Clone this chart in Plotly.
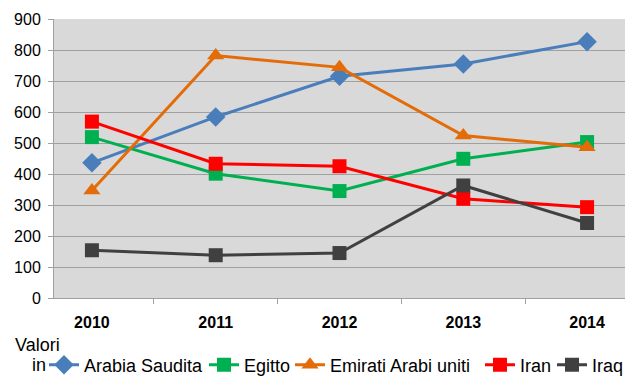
import plotly.graph_objects as go

years = ["2010", "2011", "2012", "2013", "2014"]
arabia = [436, 584, 715, 755, 827]
egitto = [519, 401, 345, 449, 503]
emirati = [347, 782, 744, 524, 486]
iran = [569, 433, 425, 320, 293]
iraq = [154, 138, 145, 363, 242]

series = [
    ("Arabia Saudita", arabia, "#4a7ebb", "diamond", 15),
    ("Egitto", egitto, "#00b050", "square", 14),
    ("Emirati Arabi uniti", emirati, "#e36c09", "triangle-up", 15),
    ("Iran", iran, "#ff0000", "square", 14),
    ("Iraq", iraq, "#404040", "square", 14),
]

# page body has an 8px margin; positions below are in figure pixels
OFF = 8
leg_px = [49, 209, 295, 485, 557]  # symbol starts on screen
L, R, T, B = 46, 23, 11, 93
W, H = 640, 383
pw, ph = W - L - R, H - T - B

fig = go.Figure()
layout_legends = {}
for i, (name, vals, col, sym, sz) in enumerate(series):
    lname = "legend" if i == 0 else f"legend{i+1}"
    fig.add_trace(go.Scatter(
        x=years, y=vals, name=name, mode="lines+markers",
        line=dict(color=col, width=3),
        marker=dict(symbol=sym, size=sz, color=col),
        legend=lname,
    ))
    ld = dict(
        orientation="h", xanchor="left", yanchor="middle",
        x=(leg_px[i] - OFF - 5 - L) / pw, y=(T + ph - (365 - OFF)) / ph,
        font=dict(size=18, family="Liberation Sans, Arial", color="#000000"),
        bgcolor="rgba(0,0,0,0)", itemwidth=30,
    )
    layout_legends[lname] = ld

fig.update_layout(
    width=W, height=H,
    margin=dict(l=L, r=R, t=T, b=B, autoexpand=False),
    paper_bgcolor="white", plot_bgcolor="#d9d9d9",
    font=dict(family="Liberation Sans, Arial", size=16, color="#000000"),
    showlegend=True,
    xaxis=dict(
        type="category", showgrid=False, showline=True, linecolor="#a0a0a0",
        ticks="outside", ticklen=5, tickcolor="#a0a0a0",
        tickson="boundaries", ticklabelstandoff=10,
        tickfont=dict(size=16, family="Liberation Sans, Arial", color="#000000", weight="bold"),
    ),
    yaxis=dict(
        range=[0, 900], dtick=100, showgrid=True, gridcolor="#a0a0a0", gridwidth=1,
        showline=True, linecolor="#a0a0a0", ticks="outside", ticklen=5, tickcolor="#a0a0a0",
        ticklabelstandoff=4,
        tickfont=dict(size=16), zeroline=False,
    ),
    annotations=[
        dict(text="Valori", xref="paper", yref="paper", x=(13 - OFF - L) / pw,
             y=(T + ph - (345 - OFF)) / ph,
             xanchor="left", yanchor="middle", showarrow=False, font=dict(size=18)),
        dict(text="in", xref="paper", yref="paper", x=(30 - OFF - L) / pw,
             y=(T + ph - (365 - OFF)) / ph,
             xanchor="left", yanchor="middle", showarrow=False, font=dict(size=18)),
    ],
    **layout_legends,
)

fig.write_html("out.html")
